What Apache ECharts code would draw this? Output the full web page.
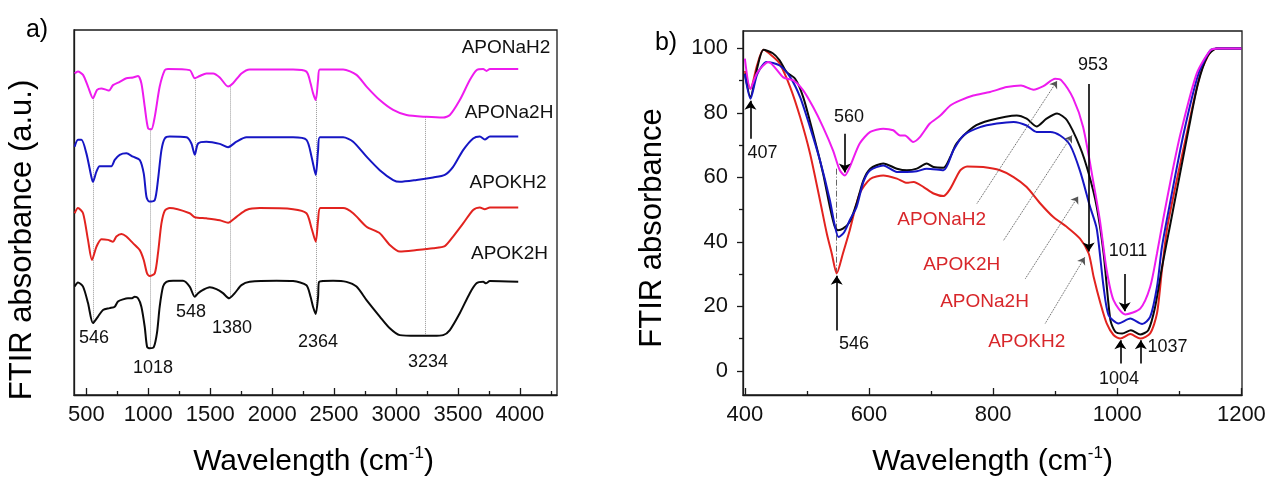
<!DOCTYPE html>
<html>
<head>
<meta charset="utf-8">
<script src="https://cdn.jsdelivr.net/npm/echarts@6/dist/echarts.min.js"></script>
<style>
  html, body { margin: 0; padding: 0; background: #fff; }
  #c { width: 1270px; height: 479px; }
</style>
</head>
<body>
<div id="c"></div>
<script>
// ---------- Panel a: stacked FTIR spectra, 400-4000 cm-1 (offset, arbitrary units) ----------
const seriesNamesA = ['APONaH2', 'APONa2H', 'APOKH2', 'APOK2H'];

const specA_APONaH2 = [[405,88.1],[432,88.6],[473,87.7],[513,84.5],[553,81.3],[586,83.6],[621,84.0],[662,83.6],[683,83.4],[715,84.9],[769,85.8],[823,86.8],[876,87.0],[917,87.4],[944,85.4],[971,79.0],[998,73.1],[1025,72.8],[1052,76.2],[1092,84.5],[1133,89.0],[1159,89.3],[1334,89.0],[1375,86.8],[1415,87.4],[1469,88.1],[1523,88.1],[1577,87.0],[1644,84.5],[1684,85.4],[1752,88.1],[1819,89.2],[2169,89.2],[2277,88.6],[2310,85.4],[2330,82.7],[2352,80.8],[2371,86.3],[2385,89.2],[2573,89.2],[2681,87.7],[2762,84.5],[2869,80.8],[2977,78.1],[3085,76.7],[3247,76.2],[3381,76.0],[3435,76.7],[3515,80.8],[3596,86.3],[3650,89.0],[3704,89.3],[3731,88.8],[3758,89.3],[3987,89.3]];

const specA_APONa2H = [[405,68.0],[432,69.9],[460,69.9],[500,66.2],[540,59.8],[553,58.4],[581,61.2],[607,62.7],[662,62.7],[702,62.7],[729,64.4],[769,65.8],[823,66.2],[876,65.3],[931,64.4],[963,60.7],[985,54.3],[1006,53.0],[1052,53.4],[1078,58.9],[1106,67.1],[1133,70.3],[1173,70.8],[1308,70.6],[1348,68.9],[1375,65.8],[1402,68.9],[1469,69.4],[1577,68.8],[1644,67.9],[1712,69.4],[1792,70.6],[2169,70.6],[2277,69.9],[2318,65.3],[2352,60.3],[2371,67.1],[2385,70.6],[2573,70.6],[2654,69.4],[2762,65.3],[2869,61.6],[2977,58.9],[3031,58.4],[3166,58.9],[3300,59.6],[3394,60.3],[3461,62.5],[3542,67.1],[3623,70.3],[3677,70.8],[3717,70.0],[3758,70.8],[3987,70.8]];

const specA_APOKH2 = [[405,49.8],[432,51.2],[473,49.8],[513,42.5],[545,37.0],[581,40.6],[621,42.7],[674,42.5],[715,42.0],[742,43.4],[783,44.1],[823,43.4],[876,41.6],[931,39.7],[963,37.0],[990,33.3],[1011,32.6],[1052,33.3],[1078,38.8],[1106,47.0],[1133,50.5],[1173,51.2],[1334,49.8],[1375,48.7],[1469,48.4],[1577,47.9],[1644,47.2],[1712,48.8],[1792,50.7],[1900,51.2],[2169,50.9],[2277,49.8],[2318,45.7],[2352,42.0],[2371,47.9],[2390,51.2],[2573,51.2],[2654,49.8],[2762,46.1],[2869,44.3],[2950,41.1],[3031,39.3],[3166,39.7],[3300,40.2],[3394,40.8],[3461,43.4],[3542,47.0],[3623,50.7],[3677,51.4],[3717,50.9],[3758,51.4],[3987,51.4]];

const specA_APOK2H = [[405,29.7],[432,30.8],[473,29.7],[513,25.2],[553,19.7],[594,21.5],[634,23.3],[688,23.8],[729,24.2],[755,25.6],[796,26.2],[836,26.5],[864,26.5],[890,26.9],[917,26.5],[944,24.2],[971,18.7],[990,13.2],[1011,12.8],[1044,13.1],[1070,17.0],[1092,24.2],[1119,29.7],[1146,31.0],[1200,31.3],[1280,31.3],[1334,29.7],[1375,26.9],[1402,27.9],[1442,28.8],[1496,29.5],[1550,29.0],[1603,27.9],[1652,26.5],[1698,27.9],[1752,30.1],[1819,31.0],[2035,31.3],[2169,31.2],[2277,30.1],[2310,26.9],[2330,24.2],[2352,22.2],[2371,26.9],[2379,31.0],[2492,31.3],[2600,31.0],[2681,29.7],[2762,26.0],[2869,21.5],[2950,18.3],[3031,16.4],[3166,16.2],[3300,16.2],[3381,16.4],[3435,17.8],[3515,22.4],[3596,27.9],[3650,30.6],[3704,31.0],[3726,30.6],[3758,31.2],[3987,31.0]];

// band guide lines of panel a: [wavenumber, upper absorbance, lower absorbance]
const guidesA = [[559,81.3,19.7],[1018,73.0,12.8],[1380,86.8,26.9],[1663,84.5,26.5],[2358,80.8,22.2],[3240,76.2,16.2]];
const bandLabelsA = ['546','1018','548','1380','2364','3234'];
const xTicksA = [500,1000,1500,2000,2500,3000,3500,4000];
const xMinorA = [750,1250,1750,2250,2750,3250,3750,4250];

// ---------- Panel b: 400-1200 cm-1 region ----------
const specB_APONaH2 = [[400,96.8],[409,87.5],[420,92.5],[438,95.8],[462,91.0],[478,90.1],[494,87.0],[510,81.8],[526,75.6],[542,68.4],[553,62.2],[561,60.6],[569,63.2],[585,70.5],[602,74.1],[623,75.1],[639,74.6],[650,73.0],[658,73.0],[671,71.0],[682,72.5],[698,76.7],[714,79.0],[731,82.3],[747,83.9],[768,85.4],[795,86.5],[822,88.0],[845,88.5],[865,87.2],[881,88.3],[900,90.6],[910,90.1],[929,84.5],[945,75.6],[962,58.0],[972,46.7],[983,31.2],[994,21.9],[1013,17.5],[1037,19.3],[1053,26.0],[1064,36.4],[1074,47.0],[1088,61.0],[1102,73.6],[1128,92.2],[1150,99.4],[1162,100],[1200,100]];

const specB_APONa2H = [[400,92.0],[409,84.4],[420,92.0],[435,95.8],[456,94.7],[473,91.1],[489,84.9],[505,75.6],[521,65.3],[537,52.9],[545,45.0],[551,41.5],[560,43.0],[569,46.7],[580,50.8],[591,58.6],[602,62.2],[623,63.7],[645,61.7],[661,61.7],[677,61.9],[693,62.7],[720,62.2],[736,68.4],[752,73.0],[779,75.6],[806,76.7],[833,77.2],[854,76.1],[870,74.1],[892,74.1],[908,73.0],[924,70.0],[940,62.0],[956,51.0],[967,44.0],[978,26.0],[986,17.3],[1002,14.7],[1021,16.2],[1040,14.5],[1053,16.7],[1064,26.0],[1072,38.4],[1085,52.0],[1107,73.6],[1131,92.2],[1150,99.4],[1162,100],[1200,100]];

const specB_APOKH2 = [[400,93.0],[409,87.5],[420,95.0],[430,99.6],[445,97.5],[456,95.3],[473,88.0],[489,78.7],[505,67.4],[521,52.9],[532,42.6],[540,36.4],[548,30.2],[558,36.4],[569,43.6],[585,55.0],[602,59.5],[623,60.6],[645,59.6],[661,58.3],[672,58.6],[688,57.0],[704,55.0],[720,54.2],[731,56.5],[747,62.2],[758,63.4],[784,63.2],[811,62.2],[833,60.1],[854,57.0],[876,51.9],[897,47.7],[919,44.6],[940,41.0],[954,36.4],[962,29.1],[973,20.9],[983,14.7],[994,11.1],[1005,10.0],[1021,11.4],[1037,10.0],[1053,11.6],[1064,17.8],[1072,31.2],[1081,45.0],[1112,73.6],[1134,92.2],[1150,98.9],[1161,100],[1200,100]];

const specB_APOK2H = [[400,92.2],[409,85.0],[420,94.0],[430,99.6],[445,98.5],[456,96.3],[467,92.7],[481,90.6],[494,84.9],[510,73.6],[526,61.2],[537,50.8],[545,44.6],[550,43.6],[558,44.1],[569,46.2],[580,51.9],[591,59.1],[602,62.7],[623,64.3],[645,62.7],[661,62.2],[677,62.7],[693,64.3],[704,63.2],[720,63.0],[731,66.3],[741,70.5],[768,75.6],[795,77.7],[838,79.2],[854,78.2],[870,75.8],[886,78.2],[903,79.8],[919,77.7],[940,69.4],[954,61.2],[967,50.8],[978,36.4],[989,15.7],[997,12.1],[1008,11.6],[1022,12.6],[1037,11.3],[1050,12.6],[1061,19.8],[1072,32.0],[1085,45.0],[1100,60.0],[1115,75.0],[1130,89.0],[1145,97.5],[1160,100],[1200,100]];

// marked bands of panel b: [label, wavenumber, arrow start, arrow tip]
const bandArrowsB = [['407',409,72,83.8],['560',561,73.5,61.5],['546',548,12.5,29.5],['953',954,89,37],['1011',1012,30,18.5],['1004',1005,2.3,9.5],['1037',1038,2.3,9.5]];
// leader arrows from the sample names to their curves: [x0, y0, x1, y1]
const leadersB = [[774,51.9,903,89.9],[817,40.5,927,73.0],[852,28.6,937,54.1],[884,14.7,947.6,35.2]];
const xTicksB = [400,600,800,1000,1200];
const xMinorB = [500,700,900,1100];
const yTicksB = [0,20,40,60,80,100];
const yMinorB = [10,30,50,70,90];

// ---------- styling ----------
const FONT = '"Liberation Sans", Arial, Helvetica, sans-serif';
const AXIS = '#1a1a1a';
const COLORS = { APONaH2: '#ee1bee', APONa2H: '#1616c4', APOKH2: '#e2231f', APOK2H: '#0a0a0a' };
const LABEL_RED = '#d8262a';

const chart = echarts.init(document.getElementById('c'), null, { renderer: 'canvas' });

function spectrum(name, data, xi, yi, z) {
  return {
    type: 'line', name, data, xAxisIndex: xi, yAxisIndex: yi, z,
    showSymbol: false, symbol: 'none', smooth: 0.25, silent: true,
    lineStyle: { color: COLORS[name], width: 2 }, itemStyle: { color: COLORS[name] }
  };
}
function majorAxis(gridIndex, min, max, ticks, pos, inside, len, labels) {
  return {
    type: 'value', gridIndex, min, max, position: pos,
    axisLine: { show: true, onZero: false, lineStyle: { color: AXIS, width: 1.3 } },
    axisTick: { show: !!ticks, inside, length: len, customValues: ticks || undefined, lineStyle: { color: AXIS, width: 1.3 } },
    axisLabel: labels ? {
      show: true, customValues: ticks, fontSize: 22, fontFamily: FONT, color: '#111', margin: labels,
      formatter: v => String(v)
    } : { show: false },
    splitLine: { show: false }
  };
}
function minorAxis(gridIndex, min, max, ticks, pos, inside, len) {
  return {
    type: 'value', gridIndex, min, max, position: pos,
    axisLine: { show: false, onZero: false },
    axisTick: { show: true, inside, length: len, customValues: ticks, lineStyle: { color: AXIS, width: 1.3 } },
    axisLabel: { show: false }, splitLine: { show: false }
  };
}

const option = {
  animation: false,
  backgroundColor: '#fff',
  grid: [
    { left: 74, top: 30, width: 483, height: 365, show: true, borderColor: AXIS, borderWidth: 1.3, backgroundColor: 'transparent' },
    { left: 743, top: 31, width: 499, height: 364, show: true, borderColor: AXIS, borderWidth: 1.3, backgroundColor: 'transparent' }
  ],
  xAxis: [
    majorAxis(0, 400, 4300, xTicksA, 'bottom', true, 7, 9),
    minorAxis(0, 400, 4300, xMinorA, 'bottom', true, 4),
    majorAxis(1, 397, 1201, xTicksB, 'bottom', true, 7, 9),
    minorAxis(1, 397, 1201, xMinorB, 'bottom', true, 4)
  ],
  yAxis: [
    majorAxis(0, 0, 100, null, 'left', false, 0, 0),
    majorAxis(1, -7.5, 105.4, yTicksB, 'left', false, 6, 15),
    minorAxis(1, -7.5, 105.4, yMinorB, 'left', false, 4)
  ],
  series: [
    {
      type: 'lines', coordinateSystem: 'cartesian2d', xAxisIndex: 0, yAxisIndex: 0, z: 1, silent: true,
      symbol: 'none', lineStyle: { color: '#9a9a9a', width: 1, type: 'dotted', opacity: 1 },
      data: guidesA.map(g => ({ coords: [[g[0], g[1]], [g[0], g[2]]] }))
    },
    spectrum('APONaH2', specA_APONaH2, 0, 0, 3),
    spectrum('APONa2H', specA_APONa2H, 0, 0, 3),
    spectrum('APOKH2', specA_APOKH2, 0, 0, 3),
    spectrum('APOK2H', specA_APOK2H, 0, 0, 3),

    {
      type: 'lines', coordinateSystem: 'cartesian2d', xAxisIndex: 2, yAxisIndex: 1, z: 1, silent: true,
      symbol: 'none', lineStyle: { color: '#666', width: 1, type: [6, 2, 1, 2], opacity: 1 },
      data: [{ coords: [[548, 62.7], [548, 30.2]] }]
    },
    spectrum('APOKH2', specB_APOKH2, 2, 1, 3),
    spectrum('APOK2H', specB_APOK2H, 2, 1, 3),
    spectrum('APONa2H', specB_APONa2H, 2, 1, 3),
    spectrum('APONaH2', specB_APONaH2, 2, 1, 3),
    {
      type: 'lines', coordinateSystem: 'cartesian2d', xAxisIndex: 2, yAxisIndex: 1, z: 5, silent: true,
      symbol: ['none', 'arrow'], symbolSize: 9,
      lineStyle: { color: '#000', width: 1.6, opacity: 1, curveness: 0 },
      data: bandArrowsB.map(a => ({ coords: [[a[1], a[2]], [a[1], a[3]]] }))
    },
    {
      type: 'lines', coordinateSystem: 'cartesian2d', xAxisIndex: 2, yAxisIndex: 1, z: 5, silent: true,
      symbol: ['none', 'arrow'], symbolSize: 7,
      lineStyle: { color: '#555', width: 1, type: 'dotted', opacity: 1, curveness: 0 },
      data: leadersB.map(a => ({ coords: [[a[0], a[1]], [a[2], a[3]]] }))
    }
  ]
};
chart.setOption(option);

// ---------- text: titles, panel tags and annotations ----------
function txt(text, x, y, size, color) {
  return {
    type: 'text', x, y, silent: true, z: 10,
    style: { text, fontSize: size, fontFamily: FONT, fill: color || '#111',
             align: 'center', verticalAlign: 'middle', textAlign: 'center', textVerticalAlign: 'middle' }
  };
}
function xTitle(x) {
  return {
    type: 'text', x, y: 462, silent: true, z: 10,
    style: {
      text: '{a|Wavelength (cm}{s|-1}{a|)}',
      rich: {
        a: { fontSize: 30, fontFamily: FONT, fill: '#000', lineHeight: 34 },
        s: { fontSize: 17, fontFamily: FONT, fill: '#000', verticalAlign: 'top', lineHeight: 34 }
      },
      align: 'center', verticalAlign: 'middle', textAlign: 'center', textVerticalAlign: 'middle'
    }
  };
}
function yTitle(text, x, y) {
  const t = txt(text, x, y, 31, '#000');
  t.rotation = Math.PI / 2;
  return t;
}

const annotA = [
  ['546', 94, 338.5], ['1018', 153, 368.5], ['548', 191, 312.5],
  ['1380', 232, 328], ['2364', 318, 342.5], ['3234', 428, 362.5]
];
const namesA = [['APONaH2', 506, 47.5], ['APONa2H', 509, 112.5], ['APOKH2', 508, 182.5], ['APOK2H', 509.5, 254]];
const annotB = [
  ['407', 762.5, 153], ['560', 849, 117], ['546', 854, 344], ['953', 1093, 65],
  ['1011', 1128, 251], ['1004', 1119, 379], ['1037', 1167.5, 347.5]
];
const namesB = [['APONaH2', 941.7, 220], ['APOK2H', 961.7, 265], ['APONa2H', 984.5, 301.7], ['APOKH2', 1026.7, 341.7]];

const elements = [
  txt('a)', 37, 30, 25, '#000'),
  txt('b)', 666, 43, 25, '#000'),
  yTitle('FTIR absorbance (a.u.)', 22, 240),
  yTitle('FTIR absorbance', 652, 228),
  xTitle(313.5),
  xTitle(992.5)
];
annotA.forEach(a => elements.push(txt(a[0], a[1], a[2], 18)));
namesA.forEach(a => elements.push(txt(a[0], a[1], a[2], 19)));
annotB.forEach(a => elements.push(txt(a[0], a[1], a[2], 18)));
namesB.forEach(a => elements.push(txt(a[0], a[1], a[2], 19, LABEL_RED)));

chart.setOption({ graphic: { elements } });
</script>
</body>
</html>
